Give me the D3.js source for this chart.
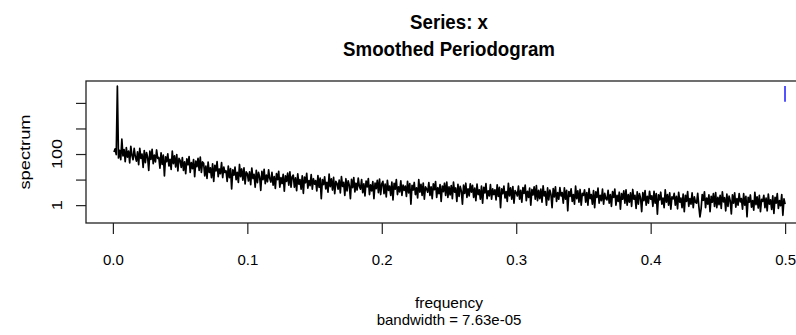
<!DOCTYPE html>
<html>
<head>
<meta charset="utf-8">
<script src="https://cdn.jsdelivr.net/npm/d3@7"></script>
<style>
  html, body { margin: 0; padding: 0; background: #fff; }
  svg { display: block; }
  text { font-family: "Liberation Sans", Arial, Helvetica, sans-serif; fill: #000; }
</style>
</head>
<body>
<div id="chart"></div>
<script>
// ---------------- data ----------------
const titleLines = ["Series: x", "Smoothed Periodogram"];
const xLabel = "frequency";
const subLabel = "bandwidth = 7.63e-05";
const yLabel = "spectrum";

const xTicks = [0, 0.1, 0.2, 0.3, 0.4, 0.5];
const xTickLabels = ["0.0", "0.1", "0.2", "0.3", "0.4", "0.5"];
const yTicks = [1, 10, 100, 1000, 10000];
const yTickLabels = ["1", "", "100", "", ""];

// Fourier frequency grid step (cycles per observation)
const freqStep = 0.5 / 600;

// spectrum estimates (one per frequency, 20 per row)
const spectrumValues = [
  120, 160, 95, 45000, 70, 140, 60, 380, 85, 150, 50, 180, 75, 130, 45, 200, 90, 60, 165, 80,
  53, 122, 38, 167, 68, 99, 30, 137, 46, 114, 76, 23, 129, 61, 152, 42, 91, 49, 144, 68,
  73, 28, 112, 39, 90, 14, 78, 50, 101, 34, 62, 25, 129, 42, 84, 31, 95, 22, 67, 56,
  30, 72, 23, 49, 17, 65, 38, 80, 19, 46, 27, 61, 13, 53, 32, 68, 23, 76, 19, 49,
  43, 14, 34, 11, 48, 19, 29, 12, 41, 8.4, 36, 22, 50, 13, 26, 17, 46, 12, 31, 19,
  22, 8.5, 34, 12, 27, 4.3, 24, 15, 31, 10, 19, 7.7, 39, 13, 26, 9.4, 29, 6.8, 20, 17,
  8.8, 20, 6.3, 28, 11, 16, 5, 23, 7.6, 19, 12.6, 3.8, 21, 10, 25, 6.9, 15, 8.2, 24, 11,
  8, 19, 6, 13, 4.5, 17, 10, 21, 5, 12, 7, 16, 3.5, 14, 8.5, 18, 6, 20, 5, 13,
  15, 5, 11.6, 3.7, 16.6, 6.6, 10, 4.2, 14, 2.9, 12.5, 7.5, 17.4, 4.6, 9.1, 5.8, 15.8, 4.2, 10.8, 6.6,
  9.2, 3.6, 14.2, 5, 11.4, 1.8, 9.9, 6.4, 12.8, 4.3, 7.8, 3.2, 16.3, 5.3, 10.7, 3.9, 12.1, 2.8, 8.5, 7.1,
  4.2, 9.6, 3, 13.2, 5.4, 7.8, 2.4, 10.8, 3.6, 9, 6, 1.8, 10.2, 4.8, 12, 3.3, 7.2, 3.9, 11.4, 5.4,
  4.2, 9.9, 3.1, 6.8, 2.3, 8.8, 5.2, 10.9, 2.6, 6.2, 3.6, 8.3, 1.8, 7.3, 4.4, 9.4, 3.1, 10.4, 2.6, 6.8,
  8.5, 2.8, 6.6, 2.1, 9.4, 3.8, 5.6, 2.4, 8, 1.6, 7.1, 4.2, 9.9, 2.6, 5.2, 3.3, 8.9, 2.4, 6.1, 3.8,
  5.6, 2.2, 8.6, 3, 6.9, 1.1, 6, 3.9, 7.7, 2.6, 4.7, 1.9, 9.9, 3.2, 6.5, 2.4, 7.3, 1.7, 5.2, 4.3,
  3.2, 7.6, 2.4, 5.2, 1.8, 6.8, 4, 8.4, 2, 4.8, 2.8, 6.4, 1.4, 5.6, 3.4, 7.2, 2.4, 8, 2, 5.2,
  2.5, 5.8, 1.8, 7.9, 3.2, 4.7, 1.4, 6.5, 2.2, 5.4, 3.6, 1.1, 6.1, 2.9, 7.2, 2, 4.3, 2.3, 6.8, 3.2,
  5.9, 2, 4.6, 1.5, 6.6, 2.6, 4, 1.7, 5.6, 1.2, 5, 3, 6.9, 1.8, 3.6, 2.3, 6.3, 1.7, 4.3, 2.6,
  4, 1.6, 6.2, 2.2, 5, 0.8, 4.3, 2.8, 5.6, 1.9, 3.4, 1.4, 7.1, 2.3, 4.7, 1.7, 5.3, 1.2, 3.7, 3.1,
  2.3, 5.5, 1.7, 3.8, 1.3, 4.9, 2.9, 6.1, 1.5, 3.5, 2, 4.6, 1, 4.1, 2.5, 5.2, 1.7, 5.8, 1.5, 3.8,
  1.8, 4.2, 1.3, 5.7, 2.3, 3.4, 1, 4.7, 1.6, 3.9, 2.6, 0.8, 4.4, 2.1, 5.2, 1.4, 3.1, 1.7, 4.9, 2.3,
  3.1, 1.2, 4.8, 1.7, 3.8, 0.6, 3.4, 2.2, 4.3, 1.4, 2.6, 1.1, 5.5, 1.8, 3.6, 1.3, 4.1, 1, 2.9, 2.4,
  4, 1.3, 3.1, 1, 4.4, 1.8, 2.6, 1.1, 3.7, 0.8, 3.3, 2, 4.6, 1.2, 2.4, 1.5, 4.2, 1.1, 2.9, 1.8,
  1.6, 3.8, 1.2, 2.6, 0.9, 3.4, 2, 4.2, 1, 2.4, 1.4, 3.2, 0.7, 2.8, 1.7, 3.6, 1.2, 4, 1, 2.6,
  1.3, 3, 0.9, 4.1, 1.7, 2.4, 0.74, 3.3, 1.1, 2.8, 1.85, 0.56, 3.1, 1.5, 3.7, 1, 2.2, 1.2, 3.5, 1.7,
  2.3, 0.9, 3.5, 1.2, 2.8, 0.44, 2.5, 1.6, 3.2, 1.1, 1.9, 0.8, 4, 1.3, 2.6, 1, 3, 0.7, 2.1, 1.75,
  2.9, 1, 2.2, 0.72, 3.2, 1.3, 1.9, 0.8, 2.7, 0.56, 2.4, 1.4, 3.4, 0.9, 1.8, 1.1, 3, 0.8, 2.1, 1.3,
  1.2, 2.9, 0.9, 0.35, 0.7, 2.6, 1.55, 3.3, 0.8, 1.9, 1.1, 2.5, 0.55, 2.2, 1.3, 2.8, 0.9, 3.1, 0.8, 2,
  1.05, 2.4, 0.75, 3.3, 1.35, 1.95, 0.6, 2.7, 0.9, 2.25, 1.5, 0.45, 2.55, 1.2, 3, 0.83, 1.8, 1, 2.85, 1.35,
  1.8, 0.7, 2.8, 1, 2.2, 0.35, 2, 1.3, 2.5, 0.84, 1.5, 0.63, 3.2, 1.05, 2.1, 0.77, 2.4, 0.56, 1.7, 1.4,
  2.4, 0.8, 1.9, 0.6, 2.7, 1.1, 1.6, 0.68, 2.3, 0.47, 2, 1.2, 2.8, 0.74, 1.5, 0.95, 2.6, 0.4, 1.75, 1.1
];

// confidence-interval bar (blue) near the top-right
const ciFreq = [0.5 - 7.63e-5];
const ciRange = [11100, 45700];

// ---------------- drawing ----------------
const W = 796, H = 335;
const plot = { left: 86, right: 812, top: 81, bottom: 223 };

const x = d3.scaleLinear().domain([-0.02, 0.52]).range([plot.left, plot.right]);
const y = d3.scaleLog().domain([0.2, 72000]).range([plot.bottom, plot.top]);

const svg = d3.select("#chart").append("svg").attr("width", W).attr("height", H);

svg.append("defs").append("clipPath").attr("id", "clip")
  .append("rect").attr("x", plot.left).attr("y", plot.top)
  .attr("width", plot.right - plot.left).attr("height", plot.bottom - plot.top);

const points = spectrumValues.map((v, i) => ({ f: (i + 1) * freqStep, s: v }));

svg.append("path")
  .datum(points)
  .attr("clip-path", "url(#clip)")
  .attr("fill", "none")
  .attr("stroke", "#000")
  .attr("stroke-width", 1.7)
  .attr("stroke-linejoin", "round")
  .attr("d", d3.line().x(d => x(d.f)).y(d => y(d.s)));

// CI bar
svg.append("line")
  .attr("x1", x(ciFreq[0])).attr("x2", x(ciFreq[0]))
  .attr("y1", y(ciRange[0])).attr("y2", y(ciRange[1]))
  .attr("stroke", "#1a1aff").attr("stroke-width", 1.5);

// box
svg.append("rect")
  .attr("x", plot.left).attr("y", plot.top)
  .attr("width", plot.right - plot.left).attr("height", plot.bottom - plot.top)
  .attr("fill", "none").attr("stroke", "#222").attr("stroke-width", 1.3);

// x axis
const xAxis = d3.axisBottom(x)
  .tickValues(xTicks)
  .tickFormat((d, i) => xTickLabels[i])
  .tickSize(11)
  .tickPadding(20);
const gx = svg.append("g").attr("transform", `translate(0,${plot.bottom})`).call(xAxis);
gx.select(".domain").remove();
gx.selectAll(".tick line").attr("stroke", "#222").attr("stroke-width", 1.2);
gx.selectAll(".tick text").style("font-size", "15px").attr("fill", "#000");

// y axis
const yAxis = d3.axisLeft(y)
  .tickValues(yTicks)
  .tickFormat("")
  .tickSize(10);
const gy = svg.append("g").attr("transform", `translate(${plot.left},0)`).call(yAxis);
gy.select(".domain").remove();
gy.selectAll(".tick line").attr("stroke", "#222").attr("stroke-width", 1.2);

yTicks.forEach((v, i) => {
  if (!yTickLabels[i]) return;
  svg.append("text")
    .attr("transform", `translate(62,${y(v)}) rotate(-90) scale(1.2,1)`)
    .attr("text-anchor", "middle")
    .style("font-size", "15px")
    .text(yTickLabels[i]);
});

// axis labels
svg.append("text")
  .attr("transform", `translate(30,${(plot.top + plot.bottom) / 2}) rotate(-90) scale(1.22,1)`)
  .attr("text-anchor", "middle")
  .style("font-size", "15px")
  .text(yLabel);

const cx = (plot.left + plot.right) / 2;
svg.append("text").attr("x", cx).attr("y", 308).attr("text-anchor", "middle")
  .style("font-size", "15.5px").text(xLabel);
svg.append("text").attr("x", cx).attr("y", 325).attr("text-anchor", "middle")
  .style("font-size", "15px").text(subLabel);

// titles
svg.append("text").attr("transform", `translate(${cx},29) scale(1,1.08)`).attr("text-anchor", "middle")
  .style("font-size", "18.7px").style("font-weight", "bold").text(titleLines[0]);
svg.append("text").attr("transform", `translate(${cx},56) scale(1,1.08)`).attr("text-anchor", "middle")
  .style("font-size", "18.7px").style("font-weight", "bold").text(titleLines[1]);
</script>
</body>
</html>
